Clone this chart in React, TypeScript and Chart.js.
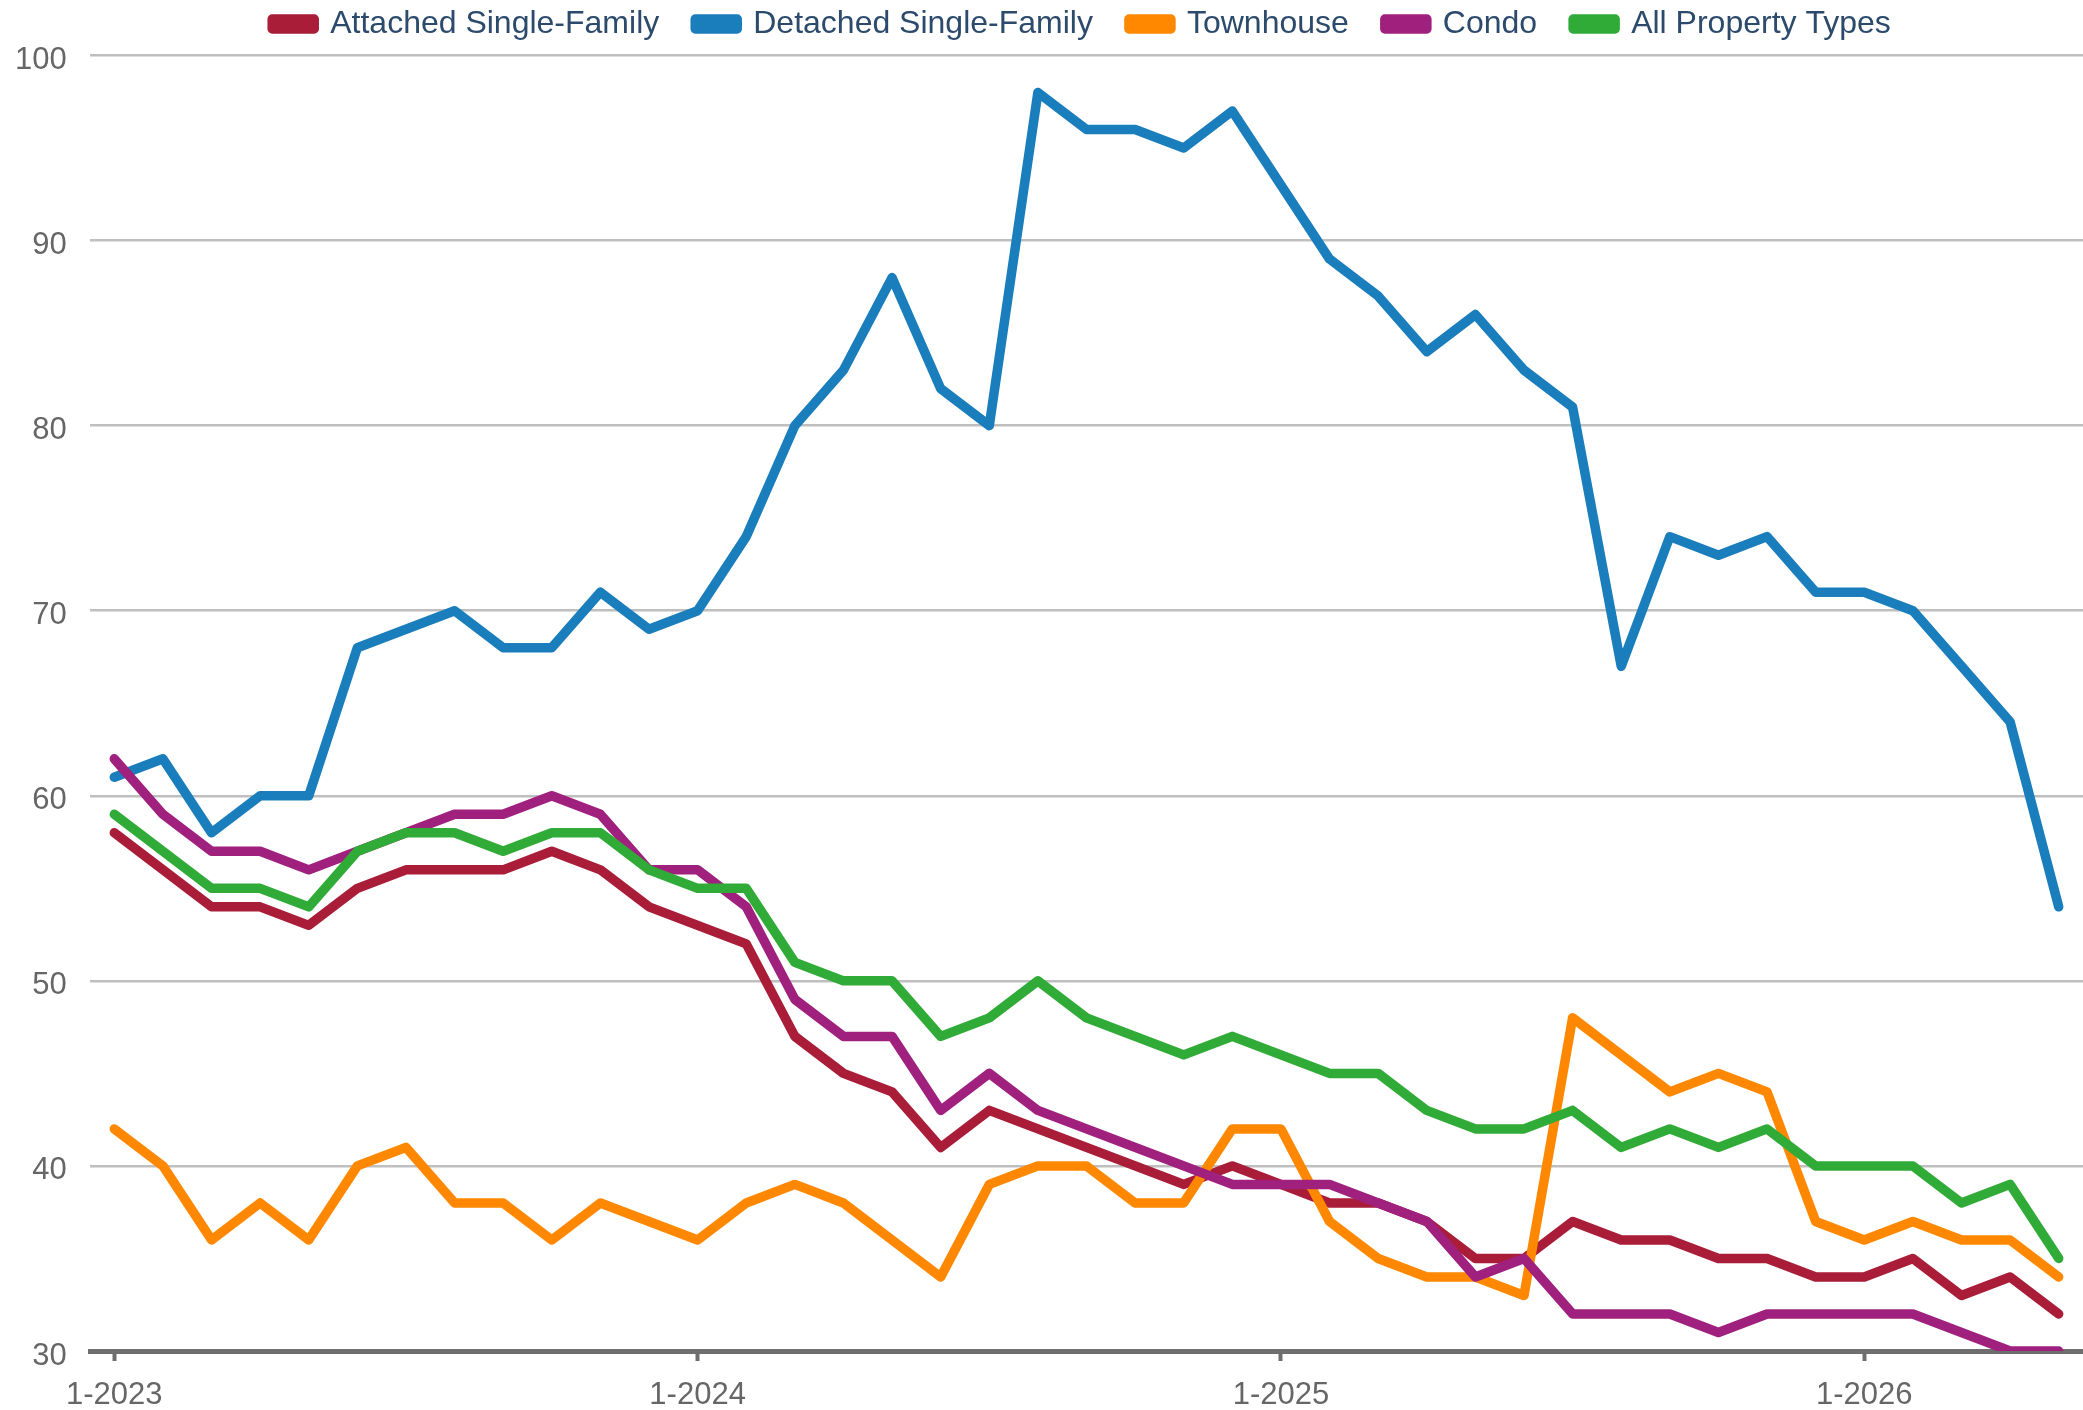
import React, { useEffect, useRef } from "react";
import { Chart, registerables } from "chart.js";

Chart.register(...registerables);

const years = [2023, 2024, 2025, 2026];
const monthsInLastYear = 5;
const categories: string[] = [];
years.forEach((y, yi) => {
  const n = yi === years.length - 1 ? monthsInLastYear : 12;
  for (let m = 1; m <= n; m++) categories.push(`${m}-${y}`);
});

const attachedSingleFamily = [58, 56, 54, 54, 53, 55, 56, 56, 56, 57, 56, 54, 53, 52, 47, 45, 44, 41, 43, 42, 41, 40, 39, 40, 39, 38, 38, 37, 35, 35, 37, 36, 36, 35, 35, 34, 34, 35, 33, 34, 32];
const detachedSingleFamily = [61, 62, 58, 60, 60, 68, 69, 70, 68, 68, 71, 69, 70, 74, 80, 83, 88, 82, 80, 98, 96, 96, 95, 97, 93, 89, 87, 84, 86, 83, 81, 67, 74, 73, 74, 71, 71, 70, 67, 64, 54];
const townhouse = [42, 40, 36, 38, 36, 40, 41, 38, 38, 36, 38, 37, 36, 38, 39, 38, 36, 34, 39, 40, 40, 38, 38, 42, 42, 37, 35, 34, 34, 33, 48, 46, 44, 45, 44, 37, 36, 37, 36, 36, 34];
const condo = [62, 59, 57, 57, 56, 57, 58, 59, 59, 60, 59, 56, 56, 54, 49, 47, 47, 43, 45, 43, 42, 41, 40, 39, 39, 39, 38, 37, 34, 35, 32, 32, 32, 31, 32, 32, 32, 32, 31, 30, 30];
const allPropertyTypes = [59, 57, 55, 55, 54, 57, 58, 58, 57, 58, 58, 56, 55, 55, 51, 50, 50, 47, 48, 50, 48, 47, 46, 47, 46, 45, 45, 43, 42, 42, 43, 41, 42, 41, 42, 40, 40, 40, 38, 39, 35];

const seriesNames = ["Attached Single-Family", "Detached Single-Family", "Townhouse", "Condo", "All Property Types"];
const seriesColors = ["#a91d38", "#1a7dbc", "#ff8800", "#a0207e", "#31ab37"];
const seriesValues = [attachedSingleFamily, detachedSingleFamily, townhouse, condo, allPropertyTypes];

const yMin = 30;
const yMax = 100;
const yStep = 10;

export default function App() {
  const canvasRef = useRef<HTMLCanvasElement | null>(null);

  useEffect(() => {
    if (!canvasRef.current) return;
    Chart.defaults.font.family = "'Liberation Sans', Arial, sans-serif";
    const chart = new Chart(canvasRef.current, {
      type: "line",
      data: {
        labels: categories,
        datasets: seriesValues.map((vals, i) => ({
          label: seriesNames[i],
          data: vals,
          xAxisID: "x",
          yAxisID: "y",
          borderColor: seriesColors[i],
          backgroundColor: seriesColors[i],
          borderWidth: 9.5,
          pointRadius: 0,
          pointHoverRadius: 0,
          tension: 0,
          borderCapStyle: "round" as const,
          borderJoinStyle: "round" as const,
          fill: false,
          order: seriesValues.length - 1 - i,
        })),
      },
      options: {
        responsive: false,
        animation: false,
        devicePixelRatio: 1,
        layout: { padding: { top: -28, left: 80, right: 0, bottom: 0 } },
        plugins: {
          legend: {
            position: "top",
            align: "center",
            labels: {
              boxWidth: 42,
              boxHeight: 10,
              padding: 36,
              color: "#2c4a6b",
              font: { size: 32 },
              sort: (a: any, b: any) => a.datasetIndex - b.datasetIndex,
            },
          },
          tooltip: { enabled: false },
        },
        scales: {
          x: {
            type: "category",
            offset: true,
            grid: {
              display: true,
              drawOnChartArea: false,
              drawTicks: true,
              tickLength: 10,
              tickWidth: 4,
              tickColor: (ctx: any) => (ctx.index % 12 === 0 ? "#6e6e6e" : "rgba(0,0,0,0)"),
              color: "rgba(0,0,0,0)",
            },
            border: { display: true, color: "#6e6e6e", width: 5 },
            ticks: {
              autoSkip: false,
              maxRotation: 0,
              minRotation: 0,
              color: "#666666",
              font: { size: 31 },
              padding: 16,
              callback: (_v: any, idx: number) => (idx % 12 === 0 ? categories[idx] : ""),
            },
            afterFit: (s: any) => {
              s.height = 59;
            },
          },
          xTop: {
            type: "category",
            position: "top",
            display: true,
            grid: { display: false, drawTicks: false },
            border: { display: false },
            ticks: { display: false },
            afterFit: (s: any) => {
              s.height = 5.5;
            },
          },
          y: {
            min: yMin,
            max: yMax,
            ticks: {
              stepSize: yStep,
              color: "#666666",
              font: { size: 31 },
              mirror: true,
              crossAlign: "far",
              padding: -75,
              labelOffset: 5,
            },
            grid: {
              color: (ctx: any) => (ctx.tick && ctx.tick.value === yMin ? "rgba(0,0,0,0)" : "#bfbfbf"),
              lineWidth: 2.5,
              drawTicks: false,
            },
            border: { display: false },
            afterFit: (s: any) => {
              s.width = 10;
            },
          },
        },
      },
    });
    return () => chart.destroy();
  }, []);

  return (
    <div style={{ position: "absolute", left: 0, top: 0, width: 2083, height: 1410, background: "#fff" }}>
      <canvas ref={canvasRef} width={2083} height={1410} style={{ display: "block" }} />
    </div>
  );
}
